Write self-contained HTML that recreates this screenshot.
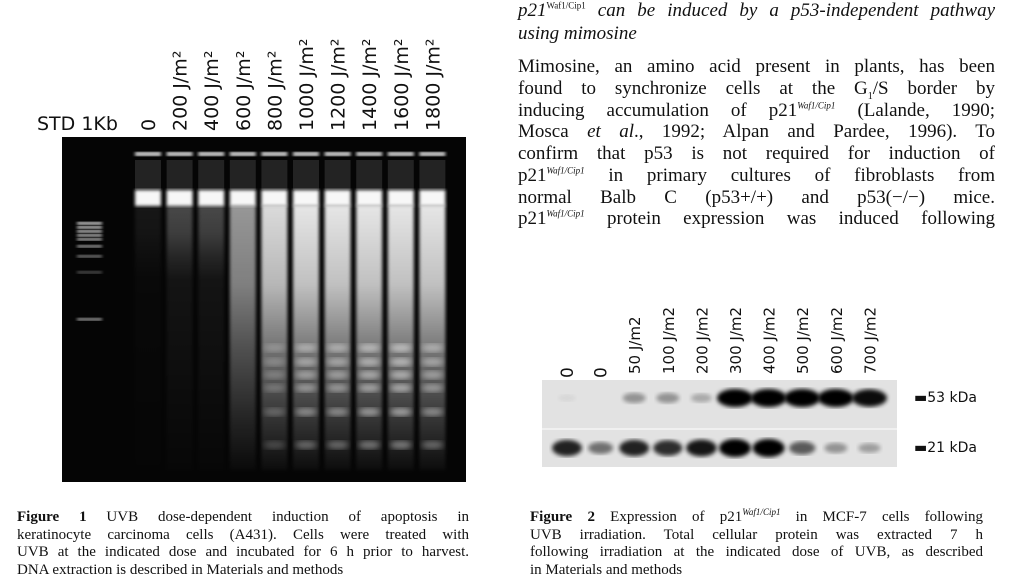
<!DOCTYPE html>
<html><head><meta charset="utf-8">
<style>
body{margin:0;width:1009px;height:584px;background:#fff;overflow:hidden;position:relative;font-family:"Liberation Serif",serif;color:#111}
.ln{position:absolute;left:518px;width:477px;font-size:19px;line-height:21.7px;text-align:justify;text-align-last:justify;white-space:nowrap}
.cap{position:absolute;font-size:15px;line-height:17.6px}
.cap div{white-space:nowrap}
sup{font-size:9px;line-height:0}
</style></head><body>
<div style="position:absolute;left:518px;top:0;width:477px;font-style:italic;font-size:19px;line-height:23px">
<div class="ln" style="position:relative;left:0">p21<sup style="font-style:normal">Waf1/Cip1</sup> can be induced by a p53-independent pathway</div>
<div>using mimosine</div></div>
<div>
<div class="ln" style="top:56px">Mimosine, an amino acid present in plants, has been</div>
<div class="ln" style="top:78px">found to synchronize cells at the G<sub style="font-size:10px">1</sub>/S border by</div>
<div class="ln" style="top:100px">inducing accumulation of p21<sup><i>Waf1/Cip1</i></sup> (Lalande, 1990;</div>
<div class="ln" style="top:121px">Mosca <i>et al</i>., 1992; Alpan and Pardee, 1996). To</div>
<div class="ln" style="top:143px">confirm that p53 is not required for induction of</div>
<div class="ln" style="top:165px">p21<sup><i>Waf1/Cip1</i></sup> in primary cultures of fibroblasts from</div>
<div class="ln" style="top:187px">normal Balb C (p53+/+) and p53(−/−) mice.</div>
<div class="ln" style="top:208px">p21<sup><i>Waf1/Cip1</i></sup> protein expression was induced following</div>
</div>

<svg id="g1" width="480" height="500" style="position:absolute;left:0;top:0">
<defs>
<filter id="bl"><feGaussianBlur stdDeviation="1.5"/></filter>
<filter id="bl2"><feGaussianBlur stdDeviation="3"/></filter>
</defs>
<rect x="62" y="137" width="404" height="345" fill="#050505"/>
<g id="lanes"></g>
<text x="37" y="130" font-family="'DejaVu Sans',sans-serif" font-size="19" fill="#111">STD 1Kb</text>
<g id="lbl1"></g>
</svg>

<svg id="g2" width="480" height="200" style="position:absolute;left:530px;top:290px">
<defs><filter id="bb"><feGaussianBlur stdDeviation="2.2"/></filter></defs>
<rect x="12" y="90" width="355" height="87" fill="#e2e2e2"/>
<line x1="12" y1="139" x2="367" y2="139" stroke="#f4f4f4" stroke-width="1.5"/>
<g id="bands"></g><g id="lbl2"></g>
<text x="384" y="112" font-family="'DejaVu Sans',sans-serif" font-size="14" fill="#111">▬53 kDa</text>
<text x="384" y="162" font-family="'DejaVu Sans',sans-serif" font-size="14" fill="#111">▬21 kDa</text>
</svg>

<div class="cap" style="left:17px;top:509px;width:452px">
<div style="text-align:justify;text-align-last:justify"><b>Figure 1</b> UVB dose-dependent induction of apoptosis in</div>
<div style="text-align:justify;text-align-last:justify">keratinocyte carcinoma cells (A431). Cells were treated with</div>
<div style="text-align:justify;text-align-last:justify">UVB at the indicated dose and incubated for 6 h prior to harvest.</div>
<div>DNA extraction is described in Materials and methods</div></div>
<div class="cap" style="left:530px;top:509px;width:453px">
<div style="text-align:justify;text-align-last:justify"><b>Figure 2</b> Expression of p21<sup><i>Waf1/Cip1</i></sup> in MCF-7 cells following</div>
<div style="text-align:justify;text-align-last:justify">UVB irradiation. Total cellular protein was extracted 7 h</div>
<div style="text-align:justify;text-align-last:justify">following irradiation at the indicated dose of UVB, as described</div>
<div>in Materials and methods</div></div>

<script>
const NS="http://www.w3.org/2000/svg";
// Figure 1 data
const doses1=["0","200 J/m²","400 J/m²","600 J/m²","800 J/m²","1000 J/m²","1200 J/m²","1400 J/m²","1600 J/m²","1800 J/m²"];
const smear1=[0.08,0.3,0.3,0.65,0.95,1,1,1,1,1]; // fragmentation smear intensity
const ladder1=[0,0,0,0,0.35,0.6,0.6,0.7,0.75,0.6]; // nucleosomal ladder intensity
// Figure 2 data
const doses2=["0","0","50 J/m2","100 J/m2","200 J/m2","300 J/m2","400 J/m2","500 J/m2","600 J/m2","700 J/m2"];
const p53=[0.05,0,0.35,0.35,0.25,1,1,1,1,0.95];
const p21=[0.85,0.5,0.85,0.8,0.9,1,1,0.6,0.35,0.3];

function el(t,a,p){const e=document.createElementNS(NS,t);for(const k in a)e.setAttribute(k,a[k]);p.appendChild(e);return e;}
const x1=i=>148+i*31.6;
const lanes=document.getElementById('lanes'),lbl1=document.getElementById('lbl1');
[[222,1],[226,.95],[230,.9],[234,.85],[238,.8],[245,.7],[255,.55],[271,.35],[318,.7]].forEach(([y,o])=>{
 const r=el('rect',{x:77,y:y,width:25,height:2.5,fill:'#fff',opacity:o,filter:'url(#bl)'},lanes);
 
});
doses1.forEach((d,i)=>{
 const cx=x1(i),g=el('g',{},lanes);
 
 const gid='lg'+i,lg=el('linearGradient',{id:gid,x1:0,y1:0,x2:0,y2:1},g);
 const s=smear1[i],f=s<0.5?0.35:1;
 [[0,s*0.9],[0.3*f,s*0.75],[0.55*f,s*0.45],[0.8*f,s*0.2],[1,s*0.03]].forEach(([o,v])=>el('stop',{offset:o,'stop-color':'#fff','stop-opacity':v},lg));
 el('rect',{x:cx-13,y:152,width:26,height:4,fill:'#fff',opacity:.9,filter:'url(#bl)'},g);
 el('rect',{x:cx-13,y:160,width:26,height:30,fill:'#fff',opacity:.12},g);
 el('rect',{x:cx-13,y:190,width:26,height:16,fill:'#fff',opacity:.97,filter:'url(#bl)'},g);
 el('rect',{x:cx-13,y:205,width:26,height:265,fill:'url(#'+gid+')',filter:'url(#bl)'},g);
 [348,362,375,388,412,445].forEach(y=>el('ellipse',{cx:cx,cy:y,rx:11,ry:4,fill:'#fff',opacity:ladder1[i]*(y>420?0.55:0.7),filter:'url(#bl2)'},g));
 const t=el('text',{x:0,y:0,transform:`translate(${cx+7},131) rotate(-90)`,'font-family':"'DejaVu Sans',sans-serif",'font-size':19,fill:'#111'},lbl1);
 t.textContent=d;
 
});
const x2=i=>37+i*33.6;
const bands=document.getElementById('bands'),lbl2=document.getElementById('lbl2');
doses2.forEach((d,i)=>{
 const cx=x2(i);
 const a=el('ellipse',{cx:cx,cy:108,rx:8+10*p53[i],ry:3+6*p53[i],fill:'#000',opacity:p53[i],filter:'url(#bb)'},bands);
 
 const b=el('ellipse',{cx:cx,cy:158,rx:9+7*p21[i],ry:3+6*p21[i],fill:'#000',opacity:p21[i],filter:'url(#bb)'},bands);
 
 const t=el('text',{x:0,y:0,transform:`translate(${cx+6},${i<2?88:84}) rotate(-90)`,'font-family':"'DejaVu Sans',sans-serif",'font-size':i<2?17:15,fill:'#111'},lbl2);
 t.textContent=d;
 
});
</script>
</body></html>
